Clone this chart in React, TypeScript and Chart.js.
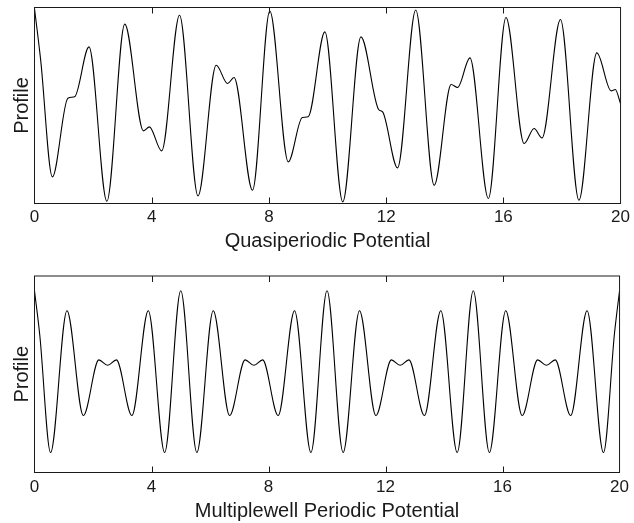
import React, { useEffect, useRef } from 'react';
import { Chart, registerables } from 'chart.js';

Chart.register(...registerables);

// Quasiperiodic potential: positions (x) and profile values (extrema & shoulders)
const quasiX = [0, 0.21, 0.61, 1.14, 1.37, 1.86, 2.47, 3.08, 3.72, 3.92, 4.34, 4.95, 5.58, 6.2, 6.59, 6.81, 7.44, 8.03, 8.66, 9.14, 9.34, 9.91, 10.52, 11.14, 11.745, 11.88, 12.39, 13.01, 13.64, 14.22, 14.44, 14.86, 15.49, 16.09, 16.71, 17.05, 17.32, 17.95, 18.58, 19.19, 19.68, 19.82, 20];
const quasiY = [1.98, 0.93, -1.457, 0.15, 0.18, 1.196, -1.953, 1.66, -0.518, -0.437, -0.927, 1.843, -1.845, 0.822, 0.449, 0.571, -1.729, 1.93, -1.151, -0.245, -0.23, 1.502, -1.967, 1.4, -0.082, -0.131, -1.273, 1.95, -1.627, 0.429, 0.367, 0.971, -1.898, 1.796, -0.776, -0.469, -0.661, 1.755, -1.933, 1.073, 0.298, 0.327, 0.041];

// Multiplewell periodic potential
const wellX = [0, 0.18, 0.55, 1.11, 1.67, 2.2, 2.5, 2.8, 3.33, 3.89, 4.45, 5, 5.55, 6.11, 6.67, 7.2, 7.5, 7.8, 8.33, 8.89, 9.45, 10, 10.55, 11.11, 11.67, 12.2, 12.5, 12.8, 13.33, 13.89, 14.45, 15, 15.55, 16.11, 16.67, 17.2, 17.5, 17.8, 18.33, 18.89, 19.45, 19.83, 20];
const wellY = [1.7, 0.8, -1.593, 1.294, -0.841, 0.292, 0.184, 0.292, -0.841, 1.294, -1.593, 1.7, -1.593, 1.294, -0.841, 0.292, 0.184, 0.292, -0.841, 1.294, -1.593, 1.7, -1.593, 1.294, -0.841, 0.292, 0.184, 0.292, -0.841, 1.294, -1.593, 1.7, -1.593, 1.294, -0.841, 0.292, 0.184, 0.292, -0.841, 1.294, -1.593, 0.85, 1.7];

const xMin = 0;
const xMax = 20;
const xStep = 4;
const yLabel = 'Profile';
const topTitle = 'Quasiperiodic Potential';
const bottomTitle = 'Multiplewell Periodic Potential';

const FONT = "'Liberation Sans', Arial, Helvetica, sans-serif";
const INK = '#1a1a1a';

const framePlugin = {
  id: 'frameTicks',
  afterDatasetsDraw(chart: any) {
    const { ctx, chartArea: a, scales } = chart;
    const xs = scales.x;
    ctx.save();
    ctx.strokeStyle = INK;
    ctx.lineWidth = 1;
    ctx.strokeRect(a.left, a.top, a.right - a.left, a.bottom - a.top);
    ctx.beginPath();
    xs.ticks.forEach((t: any) => {
      if (t.value <= xs.min || t.value >= xs.max) return;
      const px = Math.round(xs.getPixelForValue(t.value)) + 0.5;
      ctx.moveTo(px, a.bottom);
      ctx.lineTo(px, a.bottom - 6);
      ctx.moveTo(px, a.top);
      ctx.lineTo(px, a.top + 6);
    });
    ctx.stroke();
    ctx.restore();
  },
};

type PanelProps = {
  xs: number[];
  ys: number[];
  title: string;
  top: number;
  height: number;
  chartTop: number;
  chartBottom: number;
  tickPad: number;
  titlePad: number;
};

function Panel(p: PanelProps) {
  const ref = useRef<HTMLCanvasElement>(null);
  useEffect(() => {
    if (!ref.current) return;
    const data = p.xs.map((x, i) => ({ x, y: p.ys[i] }));
    const chart = new Chart(ref.current, {
      type: 'line',
      data: {
        datasets: [
          {
            data,
            borderColor: '#000',
            borderWidth: 1.1,
            pointRadius: 0,
            fill: false,
            cubicInterpolationMode: 'monotone',
          },
        ],
      },
      options: {
        animation: false,
        responsive: false,
        events: [],
        layout: { padding: { top: p.chartTop, right: 10.5, left: 0, bottom: 0 } },
        plugins: { legend: { display: false }, tooltip: { enabled: false } },
        scales: {
          x: {
            type: 'linear',
            min: xMin,
            max: xMax,
            border: { display: false },
            grid: { display: false, drawTicks: false },
            ticks: {
              stepSize: xStep,
              padding: p.tickPad,
              color: INK,
              font: { family: FONT, size: 17 },
              maxRotation: 0,
            },
            title: {
              display: true,
              text: p.title,
              color: INK,
              font: { family: FONT, size: 20 },
              padding: { top: 0, bottom: p.titlePad },
            },
            afterFit: (s: any) => {
              s.height = p.height - p.chartBottom;
            },
          },
          y: {
            type: 'linear',
            min: -2,
            max: 2,
            border: { display: false },
            grid: { display: false, drawTicks: false },
            ticks: { display: false },
            title: {
              display: true,
              text: yLabel,
              color: INK,
              font: { family: FONT, size: 20 },
              padding: { top: 10.5, bottom: 0 },
            },
            afterFit: (s: any) => {
              s.width = 34.5;
            },
          },
        },
      },
      plugins: [framePlugin],
    } as any);
    return () => chart.destroy();
  }, []);
  return (
    <canvas
      ref={ref}
      width={634}
      height={p.height}
      style={{ position: 'absolute', left: 0, top: p.top, width: 634, height: p.height, display: 'block' }}
    />
  );
}

export default function App() {
  return (
    <div style={{ position: 'absolute', left: 0, top: 0, width: 634, height: 523, background: '#fff', overflow: 'hidden' }}>
      <Panel xs={quasiX} ys={quasiY} title={topTitle} top={0} height={261} chartTop={7.5} chartBottom={203.5} tickPad={4} titlePad={8} />
      <Panel xs={wellX} ys={wellY} title={bottomTitle} top={261} height={262} chartTop={15} chartBottom={211.5} tickPad={5} titlePad={0} />
    </div>
  );
}
